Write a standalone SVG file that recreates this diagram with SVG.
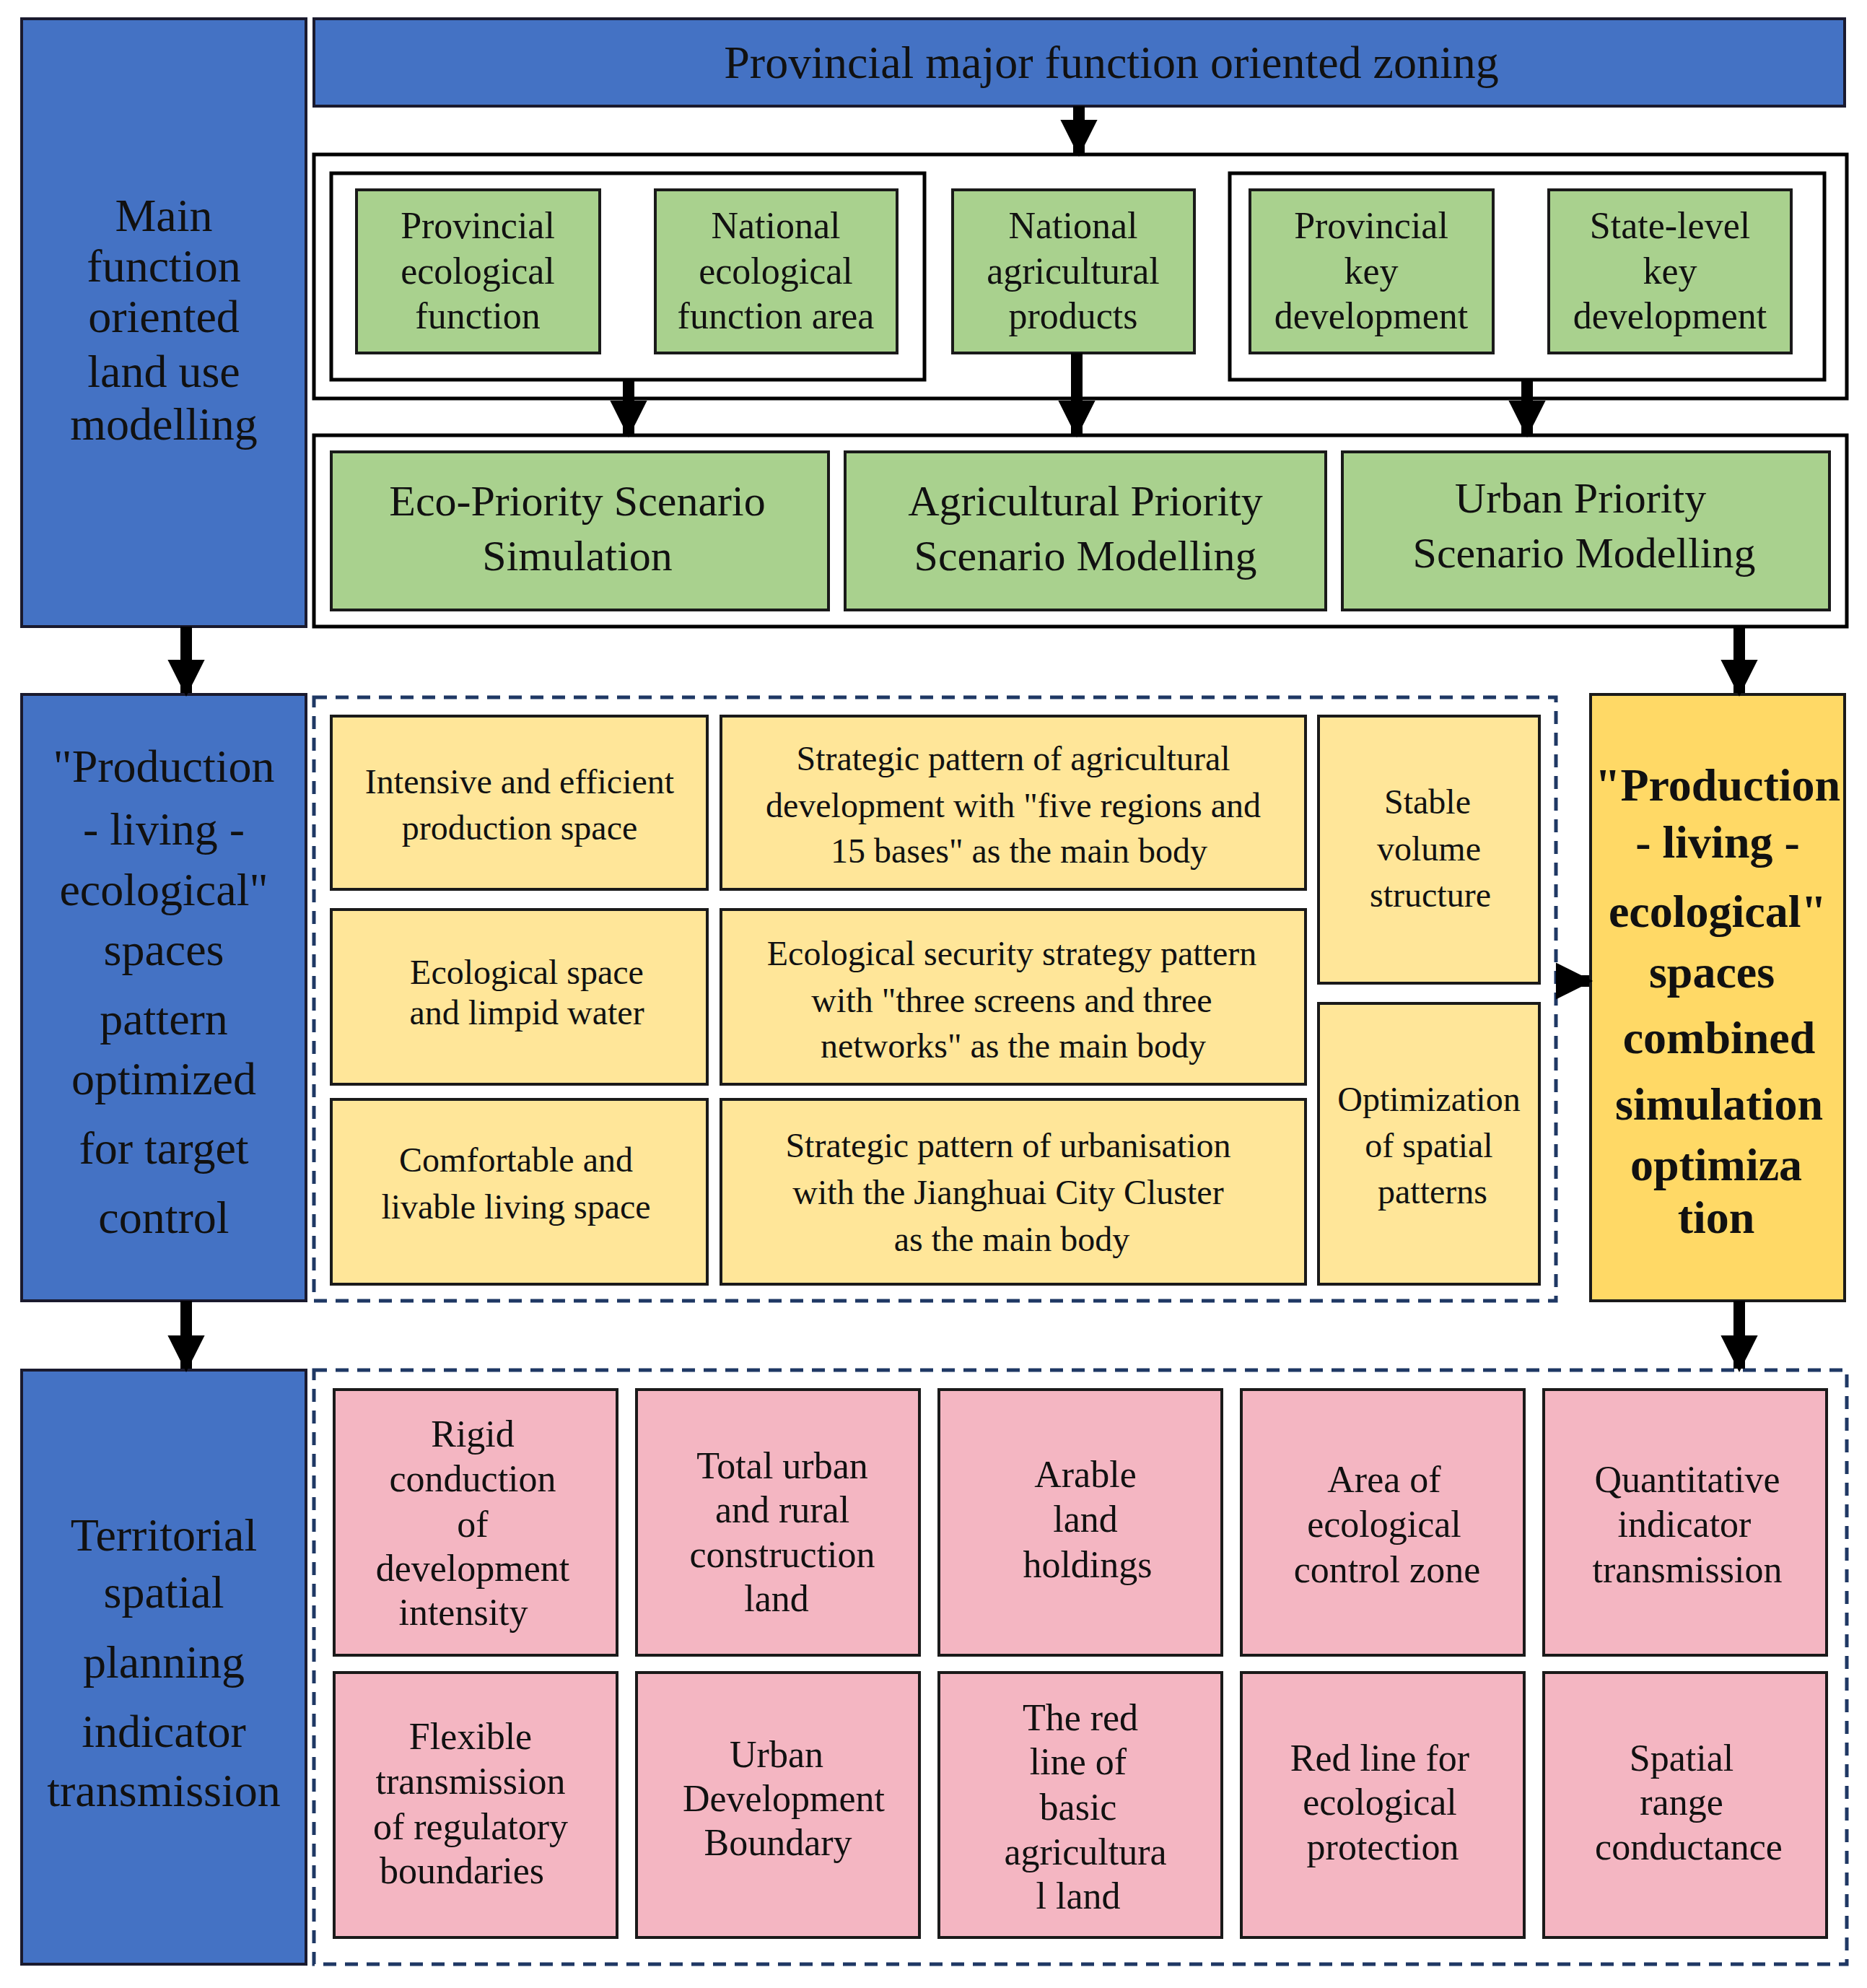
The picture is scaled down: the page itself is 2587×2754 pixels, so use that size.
<svg xmlns="http://www.w3.org/2000/svg" width="2587" height="2754" viewBox="0 0 2587 2754">
<style>
text{font-family:"Liberation Serif","DejaVu Serif",serif;fill:#111;text-anchor:middle;dominant-baseline:central}
.blue{fill:#4472C4;stroke:#1a1a2e;stroke-width:4}
.green{fill:#A9D18E;stroke:#1a1a1a;stroke-width:4}
.yel{fill:#FFE699;stroke:#1a1a1a;stroke-width:4}
.gold{fill:#FFD966;stroke:#1a1a1a;stroke-width:4}
.pink{fill:#F4B6C2;stroke:#1a1a1a;stroke-width:4}
.frame{fill:#fff;stroke:#000;stroke-width:5}
.dash{fill:none;stroke:#1F3864;stroke-width:5;stroke-dasharray:18 12}
.t64{font-size:64px}.t52{font-size:52px}.t60{font-size:60px}.t48{font-size:48px}
.bold{font-size:64px;font-weight:bold}
.shaft{stroke:#000;stroke-width:16;fill:none}
</style>
<defs><marker id="ah" viewBox="0 0 10 10" refX="9" refY="5" markerWidth="4" markerHeight="3.2" orient="auto" markerUnits="strokeWidth"><path d="M0,0 L10,5 L0,10 z" fill="#000"/></marker></defs>
<rect width="2587" height="2754" fill="#fff"/>
<g id="left1"><rect class="blue" x="30" y="26" width="394" height="842"/>
<text class="t64"><tspan x="227" y="298">Main</tspan><tspan x="227" y="368">function</tspan><tspan x="227" y="438">oriented</tspan><tspan x="227" y="514">land use</tspan><tspan x="227" y="587">modelling</tspan></text></g>
<g id="left2"><rect class="blue" x="30" y="962" width="394" height="840"/>
<text class="t64"><tspan x="227" y="1061">"Production</tspan><tspan x="227" y="1148">- living -</tspan><tspan x="227" y="1232">ecological"</tspan><tspan x="227" y="1315">spaces</tspan><tspan x="227" y="1411">pattern</tspan><tspan x="227" y="1494">optimized</tspan><tspan x="227" y="1590">for target</tspan><tspan x="227" y="1686">control</tspan></text></g>
<g id="left3"><rect class="blue" x="30" y="1898" width="394" height="823"/>
<text class="t64"><tspan x="227" y="2126">Territorial</tspan><tspan x="227" y="2205">spatial</tspan><tspan x="227" y="2302">planning</tspan><tspan x="227" y="2398">indicator</tspan><tspan x="227" y="2480">transmission</tspan></text></g>
<g id="banner"><rect class="blue" x="435" y="26" width="2121" height="121"/><text class="t64" x="1540" y="86">Provincial major function oriented zoning</text></g>
<g id="frame1"><rect class="frame" x="435" y="214" width="2124" height="338"/><rect class="frame" x="459" y="240" width="822" height="286"/><rect class="frame" x="1704" y="240" width="824" height="286"/></g>
<g id="g1"><rect class="green" x="494" y="263" width="337" height="226"/><text class="t52"><tspan x="662" y="312">Provincial</tspan><tspan x="662" y="375">ecological</tspan><tspan x="662" y="437">function</tspan></text></g>
<g id="g2"><rect class="green" x="908" y="263" width="335" height="226"/><text class="t52"><tspan x="1075" y="312">National</tspan><tspan x="1075" y="375">ecological</tspan><tspan x="1075" y="437">function area</tspan></text></g>
<g id="g3"><rect class="green" x="1320" y="263" width="335" height="226"/><text class="t52"><tspan x="1487" y="312">National</tspan><tspan x="1487" y="375">agricultural</tspan><tspan x="1487" y="437">products</tspan></text></g>
<g id="g4"><rect class="green" x="1732" y="263" width="337" height="226"/><text class="t52"><tspan x="1900" y="312">Provincial</tspan><tspan x="1900" y="375">key</tspan><tspan x="1900" y="437">development</tspan></text></g>
<g id="g5"><rect class="green" x="2146" y="263" width="336" height="226"/><text class="t52"><tspan x="2314" y="312">State-level</tspan><tspan x="2314" y="375">key</tspan><tspan x="2314" y="437">development</tspan></text></g>
<g id="frame2"><rect class="frame" x="435" y="603" width="2124" height="265"/></g>
<g id="s1"><rect class="green" x="459" y="626" width="689" height="219"/><text class="t60"><tspan x="800" y="694">Eco-Priority Scenario</tspan><tspan x="800" y="770">Simulation</tspan></text></g>
<g id="s2"><rect class="green" x="1171" y="626" width="666" height="219"/><text class="t60"><tspan x="1504" y="694">Agricultural  Priority</tspan><tspan x="1504" y="770">Scenario Modelling</tspan></text></g>
<g id="s3"><rect class="green" x="1860" y="626" width="675" height="219"/><text class="t60"><tspan x="2190" y="690">Urban Priority</tspan><tspan x="2195" y="766">Scenario Modelling</tspan></text></g>
<rect class="dash" x="435" y="966" width="1721" height="836"/>
<g id="y1"><rect class="yel" x="459" y="992" width="521" height="240"/><text class="t48"><tspan x="720" y="1082">Intensive and efficient</tspan><tspan x="720" y="1146">production space</tspan></text></g>
<g id="y2"><rect class="yel" x="459" y="1260" width="521" height="242"/><text class="t48"><tspan x="730" y="1346">Ecological space</tspan><tspan x="730" y="1402">and limpid water</tspan></text></g>
<g id="y3"><rect class="yel" x="459" y="1523" width="521" height="256"/><text class="t48"><tspan x="715" y="1606">Comfortable and</tspan><tspan x="715" y="1671">livable living space</tspan></text></g>
<g id="y4"><rect class="yel" x="999" y="992" width="810" height="240"/><text class="t48"><tspan x="1404" y="1050">Strategic pattern of agricultural</tspan><tspan x="1404" y="1115">development with "five regions and</tspan><tspan x="1412" y="1178">15 bases" as the main body</tspan></text></g>
<g id="y5"><rect class="yel" x="999" y="1260" width="810" height="242"/><text class="t48"><tspan x="1402" y="1320">Ecological security strategy pattern</tspan><tspan x="1402" y="1385">with "three screens and three</tspan><tspan x="1404" y="1448">networks" as the main body</tspan></text></g>
<g id="y6"><rect class="yel" x="999" y="1523" width="810" height="256"/><text class="t48"><tspan x="1397" y="1586">Strategic pattern of urbanisation</tspan><tspan x="1397" y="1651">with the Jianghuai City Cluster</tspan><tspan x="1402" y="1716">as the main body</tspan></text></g>
<g id="y7"><rect class="yel" x="1827" y="992" width="306" height="370"/><text class="t48"><tspan x="1978" y="1110">Stable</tspan><tspan x="1980" y="1175">volume</tspan><tspan x="1982" y="1239">structure</tspan></text></g>
<g id="y8"><rect class="yel" x="1827" y="1390" width="306" height="389"/><text class="t48"><tspan x="1980" y="1522">Optimization</tspan><tspan x="1980" y="1586">of spatial</tspan><tspan x="1985" y="1650">patterns</tspan></text></g>
<g id="goldbox"><rect class="gold" x="2204" y="962" width="352" height="840"/><text class="bold"><tspan x="2380" y="1087">"Production</tspan><tspan x="2380" y="1166">- living -</tspan><tspan x="2380" y="1262">ecological"</tspan><tspan x="2372" y="1346">spaces</tspan><tspan x="2382" y="1437">combined</tspan><tspan x="2382" y="1529">simulation</tspan><tspan x="2378" y="1613">optimiza</tspan><tspan x="2378" y="1686">tion</tspan></text></g>
<rect class="dash" x="435" y="1898" width="2124" height="823"/>
<g id="p1"><rect class="pink" x="463" y="1925" width="392" height="368"/><text class="t52"><tspan x="655" y="1986">Rigid</tspan><tspan x="655" y="2048">conduction</tspan><tspan x="655" y="2111">of</tspan><tspan x="655" y="2172">development</tspan><tspan x="642" y="2233">intensity</tspan></text></g>
<g id="p2"><rect class="pink" x="882" y="1925" width="392" height="368"/><text class="t52"><tspan x="1084" y="2030">Total urban</tspan><tspan x="1084" y="2091">and rural</tspan><tspan x="1084" y="2153">construction</tspan><tspan x="1076" y="2214">land</tspan></text></g>
<g id="p3"><rect class="pink" x="1301" y="1925" width="392" height="368"/><text class="t52"><tspan x="1504" y="2042">Arable</tspan><tspan x="1504" y="2104">land</tspan><tspan x="1507" y="2167">holdings</tspan></text></g>
<g id="p4"><rect class="pink" x="1720" y="1925" width="392" height="368"/><text class="t52"><tspan x="1918" y="2049">Area of</tspan><tspan x="1918" y="2111">ecological</tspan><tspan x="1922" y="2174">control zone</tspan></text></g>
<g id="p5"><rect class="pink" x="2139" y="1925" width="392" height="368"/><text class="t52"><tspan x="2338" y="2049">Quantitative</tspan><tspan x="2334" y="2111">indicator</tspan><tspan x="2338" y="2174">transmission</tspan></text></g>
<g id="p6"><rect class="pink" x="463" y="2317" width="392" height="367"/><text class="t52"><tspan x="652" y="2405">Flexible</tspan><tspan x="652" y="2467">transmission</tspan><tspan x="652" y="2530">of  regulatory</tspan><tspan x="640" y="2591">boundaries</tspan></text></g>
<g id="p7"><rect class="pink" x="882" y="2317" width="392" height="367"/><text class="t52"><tspan x="1076" y="2430">Urban</tspan><tspan x="1086" y="2491">Development</tspan><tspan x="1078" y="2552">Boundary</tspan></text></g>
<g id="p8"><rect class="pink" x="1301" y="2317" width="392" height="367"/><text class="t52"><tspan x="1497" y="2379">The red</tspan><tspan x="1494" y="2440">line of</tspan><tspan x="1494" y="2503">basic</tspan><tspan x="1504" y="2565">agricultura</tspan><tspan x="1494" y="2626">l land</tspan></text></g>
<g id="p9"><rect class="pink" x="1720" y="2317" width="392" height="367"/><text class="t52"><tspan x="1912" y="2435">Red line for</tspan><tspan x="1912" y="2496">ecological</tspan><tspan x="1916" y="2558">protection</tspan></text></g>
<g id="p10"><rect class="pink" x="2139" y="2317" width="392" height="367"/><text class="t52"><tspan x="2330" y="2435">Spatial</tspan><tspan x="2330" y="2496">range</tspan><tspan x="2340" y="2558">conductance</tspan></text></g>
<g id="connectors">
<line class="shaft" x1="1495" y1="147" x2="1495" y2="212" marker-end="url(#ah)"/>
<line class="shaft" x1="871" y1="526" x2="871" y2="601" marker-end="url(#ah)"/>
<line class="shaft" x1="1492" y1="489" x2="1492" y2="601" marker-end="url(#ah)"/>
<line class="shaft" x1="2116" y1="526" x2="2116" y2="601" marker-end="url(#ah)"/>
<line class="shaft" x1="258" y1="868" x2="258" y2="960" marker-end="url(#ah)"/>
<line class="shaft" x1="2410" y1="868" x2="2410" y2="960" marker-end="url(#ah)"/>
<line class="shaft" x1="2158" y1="1359" x2="2202" y2="1359" marker-end="url(#ah)"/>
<line class="shaft" x1="258" y1="1802" x2="258" y2="1896" marker-end="url(#ah)"/>
<line class="shaft" x1="2410" y1="1802" x2="2410" y2="1896" marker-end="url(#ah)"/>
</g>
</svg>
